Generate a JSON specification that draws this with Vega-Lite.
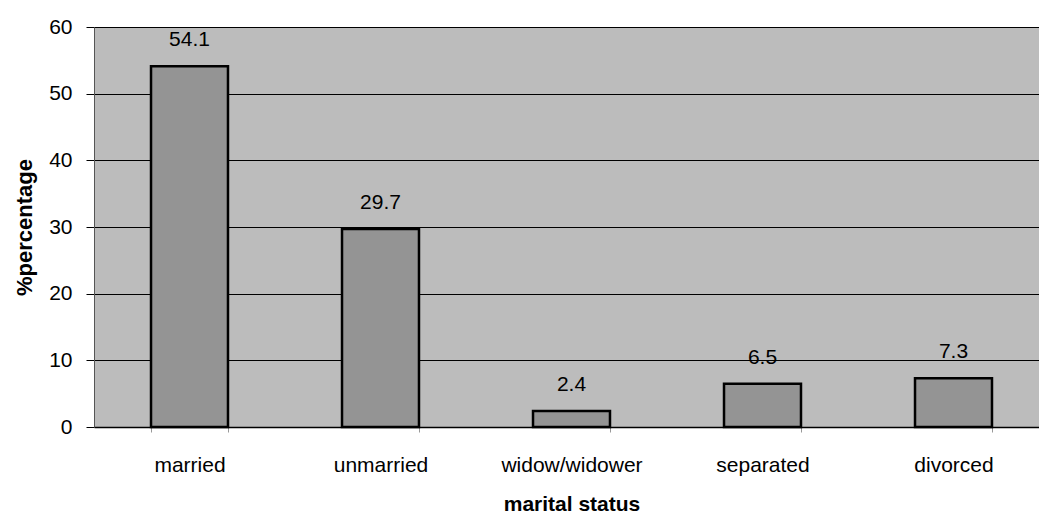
{
  "$schema": "https://vega.github.io/schema/vega-lite/v6.json",
  "width": 955,
  "height": 400,
  "autosize": {"type": "none"},
  "padding": {"left": 94, "top": 27, "right": 0, "bottom": 90},
  "background": "white",
  "config": {
    "font": "Liberation Sans",
    "view": {"fill": "#bcbcbc", "stroke": null}
  },
  "data": {
    "values": [
      {"status": "married", "pct": 54.1},
      {"status": "unmarried", "pct": 29.7},
      {"status": "widow/widower", "pct": 2.4},
      {"status": "separated", "pct": 6.5},
      {"status": "divorced", "pct": 7.3}
    ]
  },
  "encoding": {
    "x": {
      "field": "status",
      "type": "nominal",
      "sort": null,
      "scale": {"paddingInner": 0.597, "paddingOuter": 0.2985},
      "axis": {
        "title": "marital status",
        "titleFontSize": 21,
        "titleFontWeight": "bold",
        "titleColor": "black",
        "titlePadding": 18,
        "labelAngle": 0,
        "labelFontSize": 21,
        "labelColor": "black",
        "labelPadding": 22,
        "tickBand": "extent",
        "tickSize": 5,
        "tickColor": "#999999",
        "domainColor": "black",
        "domainWidth": 1.5
      }
    },
    "y": {
      "field": "pct",
      "type": "quantitative",
      "scale": {"domain": [0, 60]},
      "axis": {
        "title": "%percentage",
        "titleFontSize": 22,
        "titleFontWeight": "bold",
        "titleColor": "black",
        "titlePadding": 12,
        "values": [0, 10, 20, 30, 40, 50, 60],
        "labelFontSize": 21,
        "labelColor": "black",
        "labelPadding": 14,
        "tickSize": 8,
        "tickColor": "black",
        "gridColor": "black",
        "gridOpacity": 1,
        "gridWidth": 1,
        "domainColor": "#555555"
      }
    }
  },
  "layer": [
    {
      "mark": {"type": "bar", "fill": "#949494", "stroke": "black", "strokeWidth": 2.5}
    },
    {
      "mark": {"type": "text", "baseline": "alphabetic", "dy": -20, "fontSize": 21, "color": "black"},
      "encoding": {"text": {"field": "pct", "type": "quantitative", "format": ".1f"}}
    }
  ]
}
